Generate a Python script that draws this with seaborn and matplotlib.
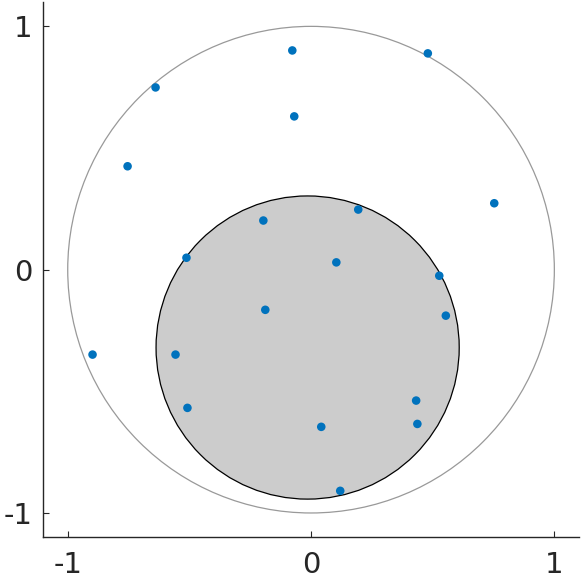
import matplotlib
matplotlib.use("Agg")
import matplotlib.pyplot as plt
import matplotlib.patches as mpatches
import seaborn as sns
import pandas as pd

# Data
x_vals = [-0.077, 0.480, -0.639, -0.069, -0.754, 0.753, 0.194, -0.196, -0.512, 0.104,
          0.527, 0.554, -0.188, -0.898, -0.557, 0.432, -0.508, 0.437, 0.042, 0.120]
y_vals = [0.901, 0.889, 0.749, 0.630, 0.425, 0.273, 0.247, 0.202, 0.049, 0.030,
          -0.025, -0.189, -0.165, -0.349, -0.349, -0.538, -0.568, -0.634, -0.646, -0.909]
outer_center = (0.0, 0.0)
outer_radius = 1.0
inner_center = (-0.014, -0.320)
inner_radius = 0.623
tick_vals = [-1, 0, 1]
tick_labels = ["-1", "0", "1"]

sns.set_style("ticks")
plt.rcParams['font.family'] = ['DejaVu Sans']

fig = plt.figure(figsize=(5.81, 5.80), dpi=100)
ax = fig.add_axes([0.0745, 0.0736, 0.9217, 0.9229])

ax.add_patch(mpatches.Circle(outer_center, outer_radius, facecolor='none',
                             edgecolor='#999999', linewidth=0.9, zorder=1))
ax.add_patch(mpatches.Circle(inner_center, inner_radius, facecolor='#cccccc',
                             edgecolor='#000000', linewidth=0.9, zorder=2))

df = pd.DataFrame({"x": x_vals, "y": y_vals})
sns.scatterplot(data=df, x="x", y="y", ax=ax, color='#0072BD', s=38,
                edgecolor='none', linewidth=0, zorder=3)

ax.set_xlim(-1.1, 1.1)
ax.set_ylim(-1.1, 1.1)
ax.set_aspect('equal', adjustable='box')
ax.set_xticks(tick_vals)
ax.set_xticklabels(tick_labels)
ax.set_yticks(tick_vals)
ax.set_yticklabels(tick_labels)
ax.set_xlabel("")
ax.set_ylabel("")
for side in ['top', 'right']:
    ax.spines[side].set_visible(False)
for side in ['left', 'bottom']:
    ax.spines[side].set_color('#262626')
    ax.spines[side].set_linewidth(1.0)
ax.tick_params(direction='in', length=4.5, width=0.8, color='#262626',
               labelsize=21, labelcolor='#262626')
ax.tick_params(axis='x', pad=10)
ax.tick_params(axis='y', pad=8)

fig.savefig("out.png", dpi=100)
